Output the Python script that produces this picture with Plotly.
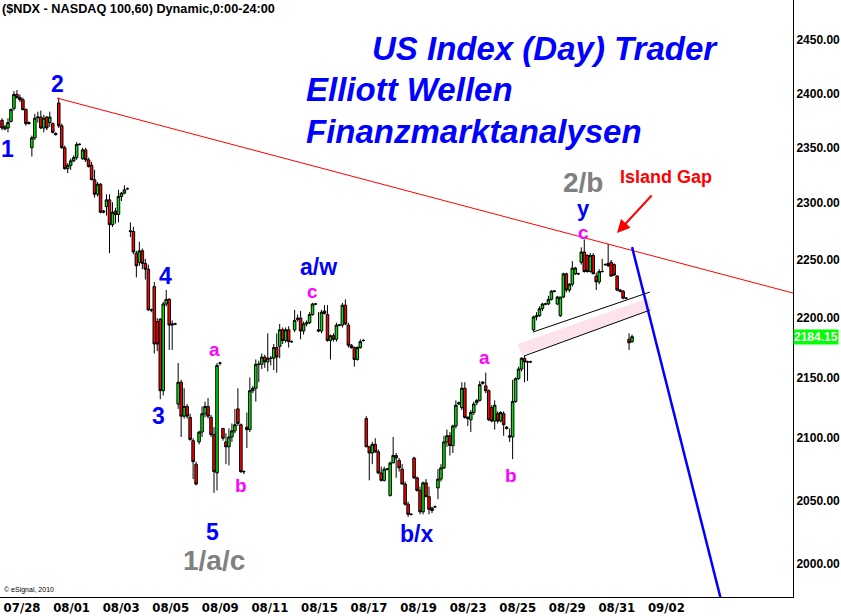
import math
import plotly.graph_objects as go

# ---------------- data: hourly NASDAQ 100 bars ----------------
opens = [
    2375, 2367, 2368, 2374, 2386, 2399, 2396, 2394, 2385, 2372,
    2350, 2359, 2377.5, 2378, 2368, 2378, 2373, 2372, 2363, 2391,
    2370, 2350, 2331, 2334, 2338, 2341, 2353, 2340, 2348, 2339,
    2334, 2321, 2308, 2317, 2292, 2297, 2303, 2281, 2293, 2290,
    2306, 2309, 2313, 2275, 2275, 2256, 2248, 2258, 2247, 2242,
    2207, 2227, 2197, 2199, 2139, 2212, 2216, 2194, 2195, 2128,
    2146, 2118, 2126, 2117, 2098, 2079, 2097, 2105, 2120, 2126,
    2117, 2103, 2072, 2162, 2108, 2097, 2093, 2101, 2106, 2124,
    2111, 2073, 2109, 2107, 2139, 2141, 2161, 2161, 2167, 2163,
    2166, 2166, 2175, 2176, 2190, 2181, 2190, 2180, 2190, 2200,
    2200, 2189, 2195, 2196, 2203, 2212, 2190, 2189, 2206, 2203,
    2181, 2185, 2182, 2194, 2194, 2211, 2194, 2177, 2175, 2165,
    2175, 2181, 2116, 2093, 2088, 2095, 2089, 2072, 2066, 2075,
    2054, 2080, 2086, 2082, 2075, 2063, 2047, 2039, 2084, 2068,
    2058, 2041, 2064, 2053, 2044, 2045, 2060, 2067, 2076, 2097,
    2102, 2094, 2110, 2128, 2125, 2141, 2117, 2115, 2121, 2129,
    2131, 2145, 2143, 2139, 2125, 2114, 2120, 2114, 2120, 2109,
    2102, 2101, 2130, 2149, 2157, 2166, 2163, 2163, 2190, 2201,
    2202, 2208, 2212, 2212, 2216, 2223, 2212, 2202, 2218, 2238,
    2224, 2229, 2238, 2238, 2248, 2257, 2254, 2240, 2254, 2236,
    2231, 2240, 2246, 2247, 2248, 2246, 2236, 2224, 2223, 2217,
    2182, 2180,
]
highs = [
    2377, 2371, 2377, 2386, 2402, 2403, 2399, 2396, 2386, 2374,
    2361, 2381, 2383, 2384, 2380, 2379, 2383, 2373, 2364, 2396,
    2372, 2352, 2336, 2340, 2343, 2355, 2354, 2350, 2350, 2341,
    2337, 2330, 2319, 2318, 2294, 2308, 2308, 2301, 2296, 2312,
    2310, 2316, 2314, 2283, 2279, 2258, 2266, 2260, 2251, 2246,
    2208, 2231, 2200, 2200, 2214, 2224, 2217, 2198, 2196, 2162,
    2148, 2141, 2128, 2120, 2100, 2081, 2106, 2126, 2130, 2133,
    2119, 2109, 2162, 2163, 2108, 2104, 2108, 2112, 2124, 2141,
    2112, 2074, 2121, 2150, 2143, 2165, 2164, 2170, 2169, 2187,
    2168, 2178, 2187, 2195, 2192, 2192, 2193, 2181, 2207, 2203,
    2206, 2197, 2198, 2205, 2213, 2213, 2205, 2207, 2211, 2211,
    2186, 2187, 2196, 2195, 2213, 2216, 2196, 2178, 2176, 2176,
    2182, 2182, 2118, 2094, 2097, 2100, 2091, 2077, 2077, 2076,
    2081, 2101, 2088, 2084, 2079, 2065, 2049, 2040, 2085, 2069,
    2061, 2065, 2067, 2061, 2045, 2046, 2075, 2079, 2102, 2107,
    2105, 2111, 2131, 2130, 2146, 2146, 2118, 2123, 2130, 2132,
    2147, 2147, 2154, 2140, 2127, 2131, 2122, 2122, 2122, 2110,
    2108, 2148, 2150, 2159, 2167, 2168, 2164, 2164, 2202, 2205,
    2210, 2213, 2213, 2219, 2224, 2224, 2219, 2218, 2239, 2239,
    2230, 2249, 2244, 2239, 2261, 2268, 2255, 2256, 2256, 2239,
    2242, 2251, 2247, 2264, 2250, 2247, 2237, 2225, 2224, 2218,
    2187, 2186,
]
lows = [
    2366, 2366, 2364, 2373, 2384, 2395, 2392, 2384, 2370, 2371,
    2342, 2357, 2373, 2367, 2364, 2366, 2369, 2363, 2361, 2368,
    2349, 2330, 2327, 2330, 2337, 2339, 2352, 2339, 2337, 2332,
    2321, 2305, 2306, 2291, 2291, 2289, 2256, 2279, 2282, 2283,
    2302, 2308, 2312, 2270, 2255, 2235, 2245, 2242, 2233, 2206,
    2205, 2170, 2172, 2132, 2135, 2210, 2173, 2173, 2194, 2124,
    2101, 2116, 2116, 2098, 2067, 2062, 2095, 2101, 2117, 2116,
    2101, 2056, 2058, 2160, 2098, 2079, 2078, 2097, 2104, 2110,
    2072, 2071, 2092, 2105, 2137, 2130, 2146, 2157, 2158, 2155,
    2160, 2156, 2154, 2166, 2178, 2179, 2175, 2179, 2188, 2197,
    2182, 2186, 2193, 2195, 2202, 2211, 2188, 2187, 2203, 2180,
    2165, 2180, 2180, 2193, 2192, 2194, 2175, 2174, 2159, 2164,
    2174, 2180, 2093, 2066, 2079, 2088, 2071, 2065, 2065, 2074,
    2053, 2080, 2068, 2073, 2063, 2046, 2037, 2038, 2067, 2057,
    2039, 2039, 2053, 2039, 2040, 2044, 2051, 2065, 2075, 2093,
    2086, 2088, 2108, 2127, 2123, 2116, 2110, 2105, 2119, 2127,
    2130, 2144, 2137, 2114, 2113, 2107, 2112, 2113, 2102, 2107,
    2097, 2083, 2129, 2148, 2155, 2146, 2147, 2162, 2189, 2198,
    2201, 2206, 2211, 2211, 2215, 2222, 2211, 2201, 2217, 2222,
    2222, 2227, 2237, 2237, 2246, 2239, 2239, 2239, 2238, 2224,
    2229, 2239, 2245, 2244, 2236, 2236, 2223, 2222, 2216, 2216,
    2173, 2179,
]
closes = [
    2368, 2369, 2373, 2385, 2399, 2396, 2394, 2385, 2372, 2373,
    2359, 2377, 2378, 2368, 2377, 2368, 2378, 2364, 2362, 2370,
    2350, 2331, 2334, 2338, 2341, 2353, 2353, 2348, 2339, 2333,
    2321, 2308, 2317, 2292, 2293, 2303, 2281, 2292, 2290, 2306,
    2309, 2312, 2313, 2275.5, 2257, 2245, 2258, 2247, 2242, 2207,
    2207, 2178, 2178, 2139, 2212, 2216, 2194, 2195, 2195, 2146,
    2118, 2126, 2118, 2099, 2081, 2063, 2105, 2120, 2126, 2118,
    2103, 2073, 2160, 2162, 2100, 2093, 2101, 2106, 2111, 2112,
    2073, 2073, 2107, 2139, 2141, 2161, 2161, 2167, 2163, 2166,
    2166, 2175, 2167, 2190, 2181, 2190, 2180, 2180, 2198, 2199,
    2189, 2195, 2196, 2203, 2212, 2212, 2189, 2205, 2204, 2181,
    2185, 2182, 2194, 2194, 2211, 2195, 2177, 2175, 2165, 2175,
    2180, 2181, 2093, 2088, 2095, 2089, 2072, 2066, 2075, 2075,
    2080, 2086, 2084, 2076, 2063, 2047, 2039, 2039, 2068, 2058,
    2041, 2064, 2053, 2043, 2042, 2045, 2067, 2076, 2097, 2102,
    2094, 2110, 2127, 2129, 2141, 2117, 2116, 2121, 2128, 2131,
    2144, 2146, 2139, 2115, 2114, 2127, 2114, 2121, 2111, 2108,
    2101, 2130, 2149, 2157, 2166, 2163, 2163, 2163, 2201, 2202,
    2208, 2212, 2212, 2216, 2223, 2223, 2218, 2218, 2238, 2224,
    2229, 2243, 2243, 2238, 2257, 2240, 2240, 2254, 2238, 2231,
    2240, 2240, 2246, 2245, 2236, 2237, 2224, 2223, 2217, 2217,
    2179, 2184.15,
]
bars = list(range(len(closes)))

# x-axis date labels (bar slots where each label sits)
tick_bars = [6.7, 23.3, 39.9, 56.5, 73.1, 89.7, 106.3, 122.9, 139.5, 156.1, 172.7, 189.3, 205.9, 222.5]
tick_labels = ["07/28", "08/01", "08/03", "08/05", "08/09", "08/11", "08/15",
               "08/17", "08/19", "08/23", "08/25", "08/29", "08/31", "09/02"]
price_ticks = [2000, 2050, 2100, 2150, 2200, 2250, 2300, 2350, 2400, 2450]
last_price = 2184.15

# analyst drawings (bar slot, price)
red_trend_bar = [18.4, 264.9]
red_trend_px = [2395.6, 2221.4]
blue_line_bar = [211.0, 242.5]
blue_line_px = [2261.3, 1957.2]
chan_up_bar = [177.8, 217.0]
chan_up_px = [2188.1, 2222.3]
chan_lo_bar = [174.8, 217.0]
chan_lo_px = [2167.9, 2206.8]
band_bar = [173.4, 217.0]
band_px = [2173.0, 2212.0]

FONT = "Liberation Sans, Arial, sans-serif"

fig = go.Figure()
fig.add_trace(go.Scatter(x=band_bar, y=band_px, mode="lines",
                         line=dict(color="#FBE2EB", width=12), hoverinfo="skip"))
fig.add_trace(go.Scatter(x=chan_up_bar, y=chan_up_px, mode="lines",
                         line=dict(color="black", width=1), hoverinfo="skip"))
fig.add_trace(go.Scatter(x=chan_lo_bar, y=chan_lo_px, mode="lines",
                         line=dict(color="black", width=1), hoverinfo="skip"))
fig.add_trace(go.Candlestick(
    x=bars, open=opens, high=highs, low=lows, close=closes,
    increasing=dict(line=dict(color="black", width=1), fillcolor="#00E400"),
    decreasing=dict(line=dict(color="black", width=1), fillcolor="#FF0000"),
    whiskerwidth=0, showlegend=False))
fig.add_trace(go.Scatter(x=red_trend_bar, y=red_trend_px, mode="lines",
                         line=dict(color="#FF0000", width=1), hoverinfo="skip"))
fig.add_trace(go.Scatter(x=blue_line_bar, y=blue_line_px, mode="lines",
                         line=dict(color="#0000FF", width=2.5), hoverinfo="skip"))

W, H = 793.0, 597.0


def ann(text, x, y, size, color, xanchor="center", bold=True, italic=False):
    t = text
    if italic:
        t = "<i>" + t + "</i>"
    if bold:
        t = "<b>" + t + "</b>"
    return dict(text=t, x=x / W, y=1 - y / H, xref="paper", yref="paper",
                xanchor=xanchor, yanchor="middle", showarrow=False,
                font=dict(family=FONT, size=size, color=color))


BLUE = "#0000FF"
MAG = "#FF00FF"
GRAY = "#808080"
annotations = [
    ann("($NDX - NASDAQ 100,60) Dynamic,0:00-24:00", 0, 9, 12.7, "black", xanchor="left"),
    ann("US Index (Day) Trader", 545, 49, 33, BLUE, italic=True),
    ann("Elliott Wellen", 304, 90, 33, BLUE, xanchor="left", italic=True),
    ann("Finanzmarktanalysen", 304, 131, 33, BLUE, xanchor="left", italic=True),
    ann("1", 7, 149, 23, BLUE),
    ann("2", 57, 84, 23, BLUE),
    ann("4", 165, 276, 23, BLUE),
    ann("3", 158, 416, 23, BLUE),
    ann("5", 212, 532, 23, BLUE),
    ann("a/w", 318, 267, 23, BLUE),
    ann("b/x", 416, 534, 23, BLUE),
    ann("y", 583, 208, 22, BLUE),
    ann("1/a/c", 214, 560, 28, GRAY),
    ann("2/b", 583, 182, 28, GRAY),
    ann("a", 214, 349, 19, MAG),
    ann("b", 241, 485, 19, MAG),
    ann("c", 312, 291, 19, MAG),
    ann("a", 484, 357, 19, MAG),
    ann("b", 511, 475, 19, MAG),
    ann("c", 583, 232, 19, MAG),
    ann("Island Gap", 666, 177, 18, "#FF0000"),
    dict(text="© eSignal, 2010", x=0.002, y=1 - 590 / H, xref="paper", yref="paper",
         xanchor="left", yanchor="middle", showarrow=False,
         font=dict(family=FONT, size=7, color="black")),
    dict(text="", x=617 / W, y=1 - 233 / H, xref="paper", yref="paper",
         showarrow=True, ax=36, ay=-39, arrowcolor="#FF0000", arrowwidth=2,
         arrowhead=2, arrowsize=1.3),
    dict(text="<b>%.2f</b>" % last_price, x=1.0, y=math.log10(last_price),
         xref="paper", yref="y", xanchor="left", yanchor="middle", showarrow=False,
         bgcolor="#00FF00", borderpad=0,
         font=dict(family=FONT, size=12, color="white")),
]

fig.update_layout(
    width=841, height=616,
    margin=dict(l=0, r=48, t=0, b=19, pad=0),
    paper_bgcolor="white", plot_bgcolor="white",
    showlegend=False,
    boxgap=0.08, boxgroupgap=0.08,
    annotations=annotations,
    xaxis=dict(range=[-0.67, 264.9], tickmode="array", tickvals=tick_bars,
               ticktext=["<b>%s</b>" % t for t in tick_labels],
               showgrid=False, zeroline=False, showline=True, linecolor="black",
               linewidth=1, ticks="", rangeslider=dict(visible=False),
               ticklabelstandoff=-2,
               tickfont=dict(family="Liberation Sans Narrow, DejaVu Sans Condensed, " + FONT,
                             size=13, color="black"),
               automargin=False),
    yaxis=dict(type="log", range=[3.29552, 3.39590], side="right", tickmode="array",
               tickvals=price_ticks, ticktext=["<b>%.2f</b>" % v for v in price_ticks],
               showgrid=False, zeroline=False, showline=True, linecolor="black",
               linewidth=1, ticks="",
               tickfont=dict(family=FONT, size=12, color="black"),
               automargin=False),
)

fig.write_html("out.html", config={"displayModeBar": False},
               post_script="document.body.style.margin='0px';document.body.style.padding='0px';")
